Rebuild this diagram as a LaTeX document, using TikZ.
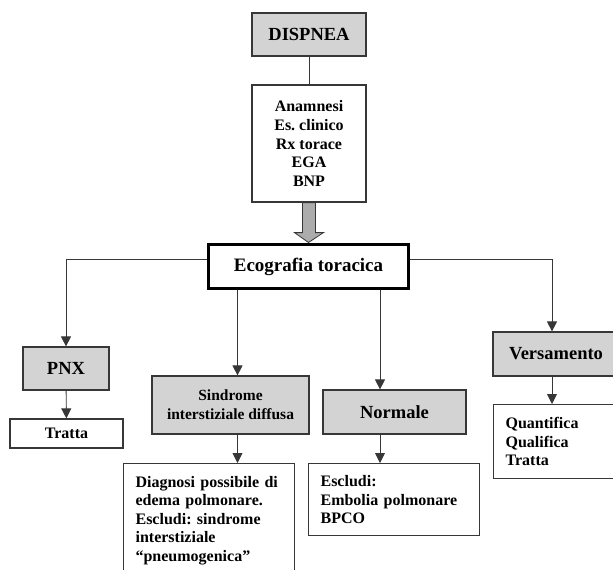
\documentclass[tikz,border=0pt]{standalone}
\usepackage{fontspec}
\setmainfont{Liberation Serif}
\frenchspacing
\usetikzlibrary{calc,arrows.meta}
\definecolor{eco@gray}{RGB}{211,211,211}
\definecolor{eco@line}{RGB}{55,55,55}

\begin{document}
\begin{tikzpicture}[
  x=1pt, y=-1pt,
  headbox/.style={draw=eco@line, line width=1.2pt, fill=eco@gray,
    inner sep=0pt, font=\fontsize{18.5}{22}\selectfont\bfseries},
  textbox/.style={draw=eco@line, line width=1.2pt, fill=white,
    inner sep=0pt, font=\fontsize{16}{18.6}\selectfont\bfseries},
  leftbox/.style={draw=eco@line, line width=1.2pt, fill=white,
    inner xsep=12pt, inner ysep=0pt, align=left,
    font=\fontsize{16}{18.6}\selectfont\bfseries},
  arr/.style={draw=eco@line, line width=0.9pt,
    -{Triangle[width=10pt,length=10pt]}},
  link/.style={draw=eco@line, line width=0.9pt},
]
\useasboundingbox (0,0) rectangle (613,570);

% top
\node[headbox, minimum width=114, minimum height=43] (dispnea) at (309,34.5) {DISPNEA};
\node[textbox, align=center, minimum width=114, minimum height=117] (anam) at (309,143.5)
  {Anamnesi\\Es. clinico\\Rx torace\\EGA\\BNP};
\node[draw=black, line width=3pt, fill=white, minimum width=200, minimum height=44,
  inner sep=0pt, font=\fontsize{19}{22}\selectfont\bfseries] (eco) at (308.5,266.5)
  {Ecografia toracica};

\draw[link] (dispnea) -- (anam);

% block arrow
\draw[eco@line, line width=0.8pt, fill=gray!65]
  ($(anam.south)+(-6.5,0)$) -- ($(anam.south)+(6.5,0)$) -- ($(anam.south)+(6.5,30)$)
  -- ($(anam.south)+(14.5,30)$) -- ($(eco.north)+(0,-0.5)$) -- ($(anam.south)+(-14.5,30)$)
  -- ($(anam.south)+(-6.5,30)$) -- cycle;

% PNX
\node[headbox, minimum width=86, minimum height=43] (pnx) at (66,368.5) {PNX};
\node[textbox, minimum width=113, minimum height=29] (tratta) at (66.5,433.5) {Tratta};

% Sindrome
\node[headbox, align=center, minimum width=157, minimum height=58,
  font=\fontsize{15.5}{19}\selectfont\bfseries] (sind) at (230.5,405)
  {Sindrome\\interstiziale diffusa};
\node[leftbox, anchor=north west, text width=147, minimum height=114] (diag) at (123,463)
  {Diagnosi possibile di\\edema polmonare.\\Escludi: sindrome\\interstiziale\\``pneumogenica''};

% Normale
\node[headbox, minimum width=143, minimum height=44] (normale) at (394.5,412) {Normale};
\node[leftbox, anchor=north west, text width=147, minimum height=72] (escl) at (308,463)
  {Escludi:\\Embolia polmonare\\BPCO};

% Versamento
\node[headbox, minimum width=126, minimum height=44] (vers) at (556,354) {Versamento};
\node[leftbox, anchor=north west, text width=102, minimum height=74] (quant) at (493,404)
  {Quantifica\\Qualifica\\Tratta};

% connectors
\draw[arr] ([yshift=7.5]eco.west) -| (pnx.north);
\draw[arr] ([xshift=-71]eco.south) -- ([xshift=-71]eco.south |- sind.north);
\draw[arr] ([xshift=71.5]eco.south) -- ([xshift=71.5]eco.south |- normale.north);
\draw[arr] ([yshift=7.5]eco.east) -| ([xshift=-4]vers.north);

\draw[arr] (pnx) -- (tratta);
\draw[arr] ([xshift=-71]eco.south |- sind.south) -- ([xshift=-71]eco.south |- diag.north);
\draw[arr] ([xshift=71.5]eco.south |- normale.south) -- ([xshift=71.5]eco.south |- escl.north);
\draw[arr] ([xshift=-4]vers.south) -- ([xshift=-4]vers.south |- quant.north);

\end{tikzpicture}
\end{document}
